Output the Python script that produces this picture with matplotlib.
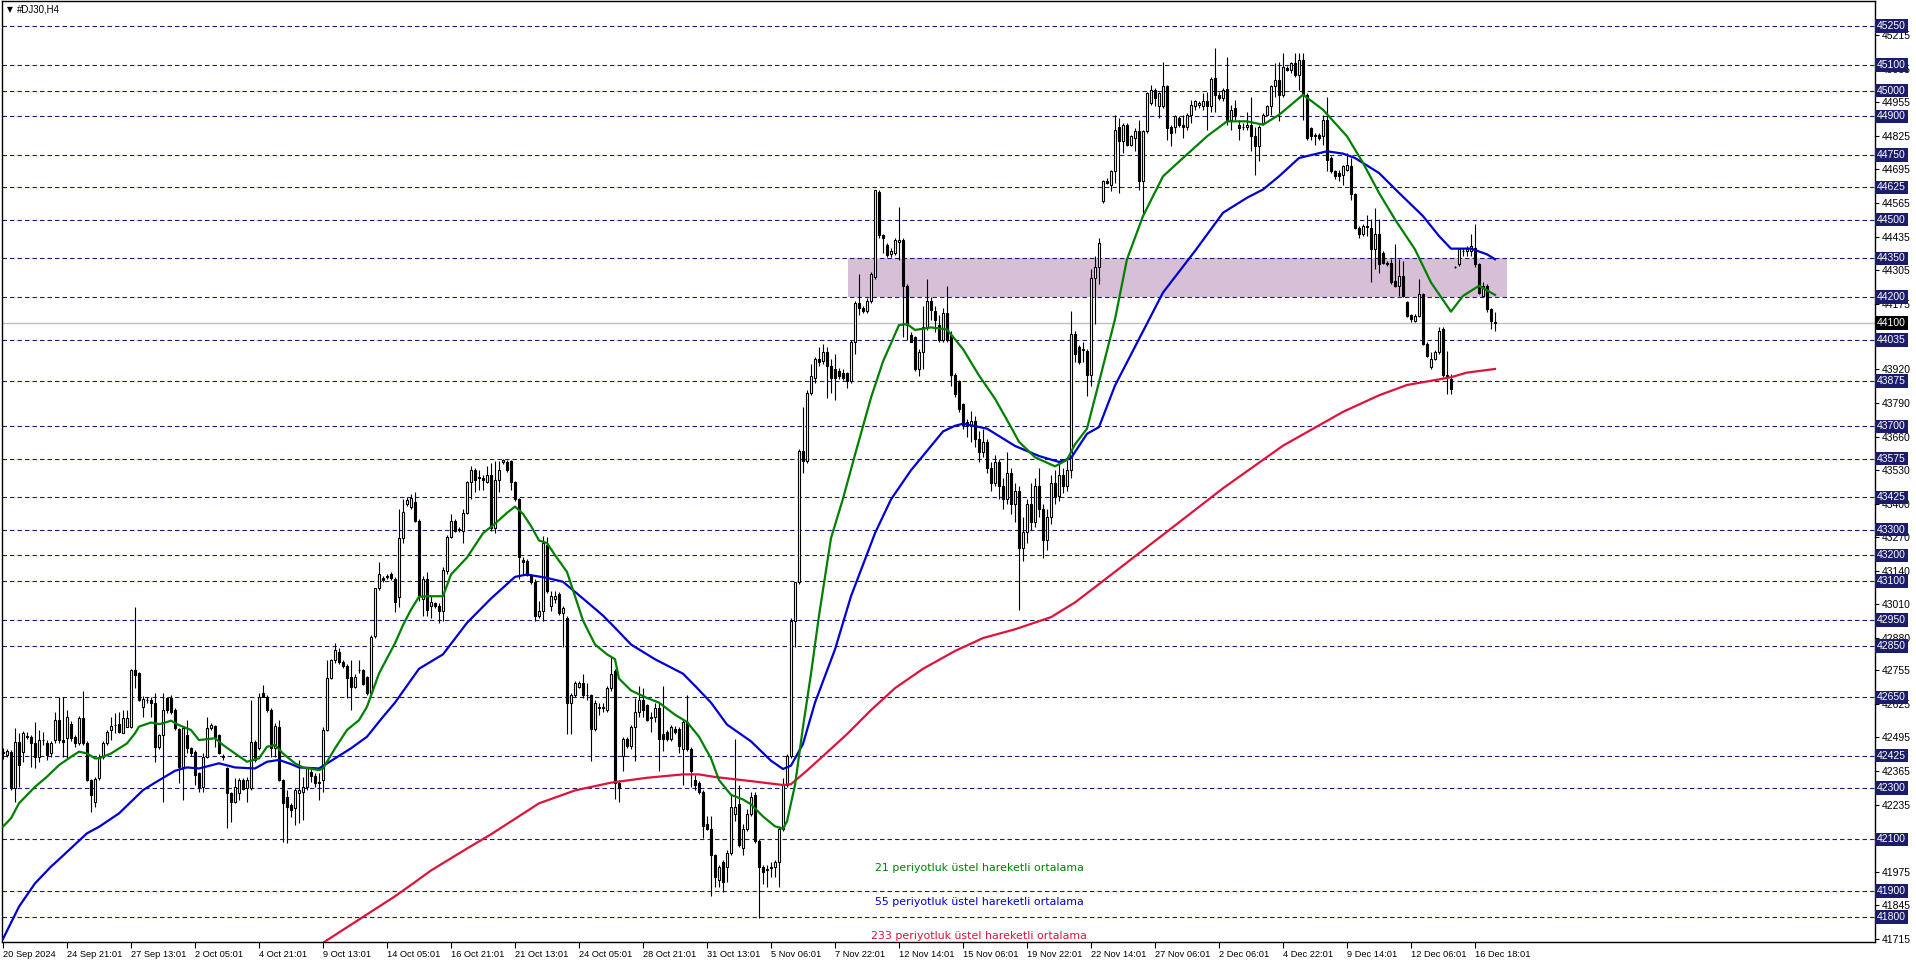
import numpy as np
import matplotlib.pyplot as plt
from matplotlib.patches import Rectangle

plt.rcParams['font.family'] = ['DejaVu Sans']
plt.rcParams['lines.scale_dashes'] = False

# H4 candles, index 0 = 20 Sep 2024
opens = [
    42440, 42427, 42440, 42298, 42479, 42440, 42500, 42498, 42472, 42421,
    42485, 42475, 42434, 42485, 42562, 42485, 42492, 42546, 42498, 42472,
    42569, 42472, 42330, 42246, 42337, 42420, 42475, 42524, 42543, 42546,
    42511, 42537, 42537, 42756, 42743, 42614, 42640, 42640, 42627, 42459,
    42504, 42646, 42646, 42601, 42528, 42382, 42504, 42453, 42440, 42356,
    42304, 42420, 42530, 42540, 42504, 42424, 42375, 42279, 42246, 42279,
    42330, 42298, 42298, 42479, 42453, 42668, 42653, 42601, 42453, 42537,
    42330, 42263, 42234, 42220, 42279, 42285, 42304, 42362, 42346, 42324,
    42330, 42524, 42724, 42795, 42825, 42788, 42773, 42728, 42692, 42756,
    42756, 42730, 42666, 42888, 43072, 43111, 43118, 43130, 43107, 43040,
    43267, 43400, 43389, 43408, 43333, 43033, 43110, 43005, 43014, 43005,
    42986, 43140, 43273, 43333, 43304, 43295, 43365, 43483, 43530, 43502,
    43500, 43483, 43511, 43305, 43492, 43560, 43563, 43567, 43483, 43417,
    43183, 43177, 43126, 43098, 42967, 42986, 43239, 43005, 43033, 43051,
    42976, 42958, 42630, 42658, 42692, 42705, 42660, 42658, 42526, 42612,
    42610, 42601, 42686, 42751, 42320, 42423, 42489, 42461, 42536, 42592,
    42639, 42620, 42570, 42573, 42611, 42508, 42517, 42489, 42527, 42527,
    42452, 42555, 42452, 42330, 42320, 42283, 42161, 42142, 42039, 41945,
    42011, 41992, 42048, 42198, 42236, 42067, 42142, 42198, 42273, 42095,
    41992, 41983, 41990, 41992, 42011, 42142, 42311, 42423, 42948, 43098,
    43605, 43567, 43830, 43886, 43961, 43951, 43989, 43933, 43923, 43914,
    43905, 43905, 43876, 44026, 44176, 44158, 44148, 44186, 44280, 44608,
    44439, 44401, 44367, 44373, 44415, 44420, 44242, 44054, 44045, 43923,
    43989, 44083, 44186, 44148, 44092, 44036, 44139, 44054, 43897, 43877,
    43787, 43716, 43700, 43720, 43650, 43600, 43640, 43540, 43480, 43560,
    43470, 43420, 43520, 43400, 43450, 43230, 43290, 43400, 43330, 43470,
    43380, 43260, 43350, 43480, 43430, 43510, 43470, 43530, 44057, 44006,
    43995, 43993, 43897, 44276, 44315, 44572, 44649, 44636, 44688, 44861,
    44803, 44868, 44791, 44816, 44842, 44649, 44842, 44951, 45003, 44939,
    44939, 45016, 44861, 44861, 44894, 44868, 44861, 44906, 44939, 44945,
    44939, 44958, 44939, 45048, 44984, 44971, 45005, 44887, 44932, 44868,
    44861, 44861, 44868, 44823, 44784, 44874, 44906, 44939, 45016, 45042,
    44984, 45087, 45080, 45106, 45061, 45119, 44984, 44855, 44829, 44829,
    44823, 44887, 44739, 44688, 44681, 44675, 44694, 44707, 44598, 44469,
    44443, 44476, 44469, 44386, 44443, 44373, 44334, 44334, 44263, 44244,
    44283, 44180, 44131, 44109, 44128, 44212, 44019, 43929, 43961, 43987,
    44077, 43897, 43884, 44318, 44328, 44380, 44378, 44379, 44392, 44328,
    44205, 44244, 44154, 44105,
]
highs = [
    42455, 42452, 42445, 42530, 42511, 42520, 42515, 42505, 42556, 42524,
    42517, 42485, 42480, 42592, 42653, 42653, 42601, 42560, 42505, 42580,
    42676, 42480, 42335, 42343, 42430, 42480, 42525, 42575, 42588, 42595,
    42601, 42601, 42760, 43001, 42750, 42655, 42653, 42653, 42666, 42510,
    42666, 42653, 42660, 42610, 42530, 42540, 42562, 42460, 42447, 42360,
    42433, 42575, 42550, 42545, 42510, 42430, 42380, 42282, 42337, 42337,
    42340, 42343, 42640, 42485, 42666, 42698, 42660, 42608, 42550, 42562,
    42335, 42292, 42240, 42298, 42408, 42343, 42382, 42382, 42356, 42356,
    42537, 42795, 42800, 42859, 42840, 42795, 42780, 42795, 42740, 42795,
    42760, 42735, 42890, 43075, 43176, 43120, 43130, 43135, 43115, 43380,
    43417, 43425, 43436, 43445, 43340, 43120, 43136, 43042, 43020, 43014,
    43155, 43280, 43361, 43340, 43312, 43380, 43490, 43548, 43539, 43530,
    43511, 43548, 43558, 43567, 43567, 43573, 43570, 43571, 43490, 43421,
    43192, 43185, 43130, 43108, 43023, 43277, 43273, 43061, 43061, 43060,
    43005, 42965, 42667, 42715, 42715, 42742, 42705, 42665, 42640, 42630,
    42630, 42695, 42808, 42760, 42330, 42498, 42495, 42545, 42648, 42695,
    42686, 42625, 42592, 42630, 42630, 42695, 42525, 42545, 42540, 42535,
    42564, 42658, 42460, 42348, 42325, 42290, 42190, 42190, 42045, 42001,
    42020, 42060, 42273, 42489, 42311, 42161, 42217, 42283, 42285, 42100,
    42000, 42001, 42011, 42020, 42152, 42339, 42432, 42958, 43098, 43614,
    43773, 43839, 43942, 43970, 44008, 44017, 44008, 43961, 43980, 43925,
    43920, 43912, 44036, 44186, 44289, 44165, 44195, 44298, 44617, 44617,
    44445, 44410, 44392, 44430, 44551, 44430, 44250, 44064, 44050, 43998,
    44167, 44270, 44200, 44167, 44130, 44158, 44242, 44070, 43905, 43880,
    43790, 43730, 43760, 43740, 43680, 43690, 43650, 43560, 43590, 43575,
    43500, 43600, 43540, 43480, 43470, 43350, 43420, 43480, 43500, 43540,
    43400, 43380, 43510, 43530, 43560, 43540, 43570, 44147, 44070, 44015,
    44025, 44000, 44308, 44360, 44431, 44655, 44660, 44694, 44906, 44894,
    44874, 44874, 44830, 44855, 44887, 44849, 44996, 45022, 45010, 44996,
    45112, 45022, 44868, 44906, 44900, 44906, 44913, 44964, 44964, 44958,
    44990, 44996, 45054, 45164, 44996, 45010, 45132, 44945, 44964, 44887,
    44874, 44919, 44977, 44861, 44868, 44913, 44945, 45022, 45106, 45112,
    45144, 45095, 45112, 45144, 45144, 45144, 44990, 44861, 44836, 44836,
    44906, 44977, 44745, 44694, 44694, 44713, 44758, 44739, 44604, 44475,
    44482, 44520, 44501, 44546, 44501, 44380, 44340, 44347, 44405, 44347,
    44340, 44186, 44135, 44135, 44270, 44218, 44025, 43987, 43995, 44083,
    44083, 43993, 43903, 44322, 44392, 44392, 44398, 44443, 44482, 44334,
    44257, 44250, 44160, 44141,
]
lows = [
    42410, 42420, 42290, 42246, 42304, 42400, 42490, 42382, 42375, 42401,
    42466, 42408, 42420, 42472, 42472, 42420, 42414, 42480, 42460, 42465,
    42466, 42325, 42207, 42227, 42330, 42410, 42465, 42485, 42511, 42511,
    42511, 42537, 42530, 42685, 42635, 42575, 42627, 42575, 42401, 42450,
    42246, 42590, 42585, 42524, 42317, 42253, 42433, 42425, 42311, 42285,
    42285, 42415, 42525, 42459, 42430, 42408, 42143, 42169, 42240, 42253,
    42290, 42246, 42292, 42400, 42446, 42650, 42595, 42420, 42420, 42325,
    42091, 42085, 42188, 42156, 42162, 42175, 42292, 42324, 42304, 42253,
    42285, 42520, 42720, 42782, 42780, 42765, 42646, 42601, 42685, 42743,
    42700, 42660, 42660, 42880, 43066, 43098, 43110, 43105, 42982, 43000,
    43248, 43390, 43380, 43330, 43023, 42967, 42967, 42958, 42995, 42939,
    42948, 43130, 43267, 43290, 43290, 43248, 43360, 43417, 43445, 43455,
    43455, 43480, 43295, 43286, 43445, 43555, 43525, 43455, 43410, 43108,
    43126, 43120, 43090, 42948, 42958, 42948, 43055, 42986, 43014, 42970,
    42845, 42508, 42508, 42650, 42685, 42648, 42640, 42405, 42520, 42583,
    42592, 42592, 42676, 42255, 42245, 42367, 42455, 42452, 42405, 42573,
    42573, 42558, 42517, 42555, 42367, 42442, 42480, 42480, 42510, 42433,
    42311, 42442, 42302, 42292, 42275, 42105, 42138, 41880, 41917, 41917,
    41898, 41936, 42040, 42170, 42070, 42039, 42133, 42189, 42086, 41795,
    41927, 41917, 41955, 41955, 41917, 42133, 42302, 42414, 42845, 43089,
    43520, 43558, 43820, 43867, 43933, 43942, 43811, 43830, 43801, 43885,
    43880, 43848, 43867, 43980, 44130, 44140, 44140, 44176, 44270, 44430,
    44373, 44355, 44355, 44365, 44345, 44045, 44036, 44026, 43914, 43895,
    43923, 44073, 44110, 44064, 44026, 44026, 44026, 43857, 43815, 43755,
    43691, 43660, 43640, 43620, 43560, 43580, 43520, 43450, 43470, 43420,
    43380, 43400, 43360, 43330, 42990, 43180, 43250, 43300, 43310, 43350,
    43190, 43220, 43320, 43400, 43410, 43440, 43450, 43500, 43948, 43940,
    43948, 43819, 43858, 44096, 44250, 44565, 44640, 44611, 44643, 44604,
    44759, 44784, 44785, 44765, 44617, 44527, 44836, 44945, 44939, 44894,
    44932, 44810, 44784, 44836, 44860, 44816, 44849, 44874, 44926, 44932,
    44926, 44849, 44919, 44919, 44964, 44958, 44868, 44849, 44887, 44810,
    44849, 44849, 44765, 44675, 44726, 44868, 44900, 44906, 44977, 44881,
    44977, 45075, 45067, 45054, 45003, 44887, 44810, 44810, 44791, 44810,
    44791, 44688, 44681, 44656, 44649, 44636, 44688, 44578, 44463, 44430,
    44437, 44437, 44257, 44308, 44295, 44328, 44321, 44250, 44238, 44205,
    44199, 44122, 44103, 44103, 44122, 44013, 43970, 43922, 43955, 43980,
    43890, 43826, 43826, 44312, 44320, 44360, 44360, 44360, 44315, 44212,
    44199, 44141, 44077, 44070,
]
closes = [
    42436, 42444, 42298, 42479, 42388, 42511, 42498, 42472, 42421, 42485,
    42487, 42427, 42472, 42562, 42485, 42478, 42575, 42492, 42472, 42571,
    42472, 42330, 42272, 42334, 42420, 42472, 42517, 42541, 42545, 42517,
    42569, 42569, 42756, 42737, 42640, 42644, 42642, 42627, 42459, 42504,
    42601, 42601, 42595, 42530, 42382, 42530, 42453, 42433, 42350, 42304,
    42420, 42530, 42543, 42498, 42436, 42420, 42279, 42246, 42304, 42330,
    42295, 42330, 42479, 42408, 42653, 42653, 42601, 42453, 42540, 42330,
    42240, 42227, 42214, 42292, 42292, 42304, 42375, 42346, 42317, 42320,
    42524, 42724, 42795, 42834, 42788, 42773, 42724, 42692, 42730, 42757,
    42704, 42666, 42885, 43072, 43130, 43105, 43122, 43111, 43020, 43267,
    43370, 43415, 43421, 43333, 43042, 43110, 42990, 43018, 43003, 42986,
    43145, 43273, 43333, 43295, 43297, 43365, 43483, 43530, 43492, 43500,
    43492, 43511, 43305, 43492, 43530, 43570, 43530, 43483, 43417, 43192,
    43173, 43126, 43098, 42967, 42986, 43248, 43061, 43042, 43042, 42976,
    42995, 42630, 42661, 42705, 42705, 42658, 42658, 42526, 42630, 42610,
    42614, 42686, 42742, 42320, 42301, 42489, 42461, 42536, 42592, 42639,
    42601, 42564, 42573, 42611, 42489, 42489, 42489, 42536, 42517, 42461,
    42555, 42452, 42367, 42311, 42283, 42152, 42142, 42039, 41955, 41992,
    41936, 42048, 42226, 42226, 42080, 42142, 42198, 42264, 42095, 41992,
    41973, 41985, 41995, 42011, 42142, 42311, 42423, 42948, 43098, 43605,
    43567, 43830, 43895, 43961, 43950, 43989, 43933, 43886, 43886, 43895,
    43886, 43876, 44026, 44176, 44158, 44148, 44186, 44289, 44617, 44439,
    44430, 44364, 44377, 44420, 44420, 44242, 44092, 44026, 43923, 43989,
    44083, 44186, 44150, 44111, 44036, 44139, 44036, 43897, 43826, 43768,
    43704, 43700, 43720, 43650, 43600, 43640, 43540, 43480, 43560, 43470,
    43420, 43520, 43400, 43450, 43230, 43290, 43400, 43330, 43470, 43380,
    43260, 43350, 43480, 43430, 43510, 43470, 43530, 44057, 43980, 43948,
    43999, 43897, 44276, 44315, 44411, 44649, 44643, 44688, 44849, 44803,
    44868, 44791, 44823, 44842, 44649, 44842, 44990, 45003, 44971, 44990,
    45016, 44855, 44836, 44900, 44868, 44861, 44906, 44945, 44958, 44951,
    44958, 44939, 45044, 44984, 44971, 45003, 44887, 44926, 44906, 44855,
    44861, 44868, 44823, 44784, 44861, 44906, 44939, 45016, 45042, 44984,
    45093, 45080, 45106, 45061, 45119, 44984, 44816, 44823, 44823, 44816,
    44887, 44733, 44688, 44669, 44669, 44707, 44713, 44598, 44469, 44443,
    44476, 44473, 44386, 44443, 44328, 44334, 44328, 44257, 44244, 44283,
    44205, 44128, 44115, 44128, 44212, 44019, 43974, 43961, 43987, 44070,
    43897, 43890, 43845, 44316, 44385, 44378, 44385, 44398, 44328, 44218,
    44244, 44154, 44109, 44100,
]

# moving averages (candle index, price)
ema21_x = [0, 2, 4, 8, 11, 14, 17, 19, 21, 23, 24, 27, 31, 33, 34, 37, 39, 40, 42, 44,
           47, 49, 53, 55, 58, 61, 64, 66, 68, 70, 73, 75, 79, 80, 83, 86, 89, 91, 94, 98,
           100, 102, 104, 106, 110, 112, 116, 120, 123, 126, 128, 130, 132, 134, 136, 138,
           141, 143, 145, 148, 151, 153, 154, 157, 161, 164, 168, 171, 174, 177, 179, 182,
           185, 187, 190, 193, 195, 196, 198, 200, 202, 204, 207, 210, 213, 217, 220, 224,
           226, 228, 232, 236, 240, 244, 248, 252, 254, 258, 263, 266, 268, 271, 274, 278,
           281, 285, 290, 295, 301, 306, 311, 315, 319, 325, 330, 336, 340, 344, 348, 353,
           357, 362, 365, 369, 373]
ema21_y = [42150, 42182, 42240, 42304, 42343, 42388, 42420, 42440, 42433, 42414, 42414,
           42433, 42472, 42511, 42537, 42553, 42547, 42550, 42560, 42543, 42524, 42485,
           42492, 42466, 42433, 42401, 42414, 42459, 42466, 42433, 42395, 42379, 42369,
           42375, 42453, 42524, 42562, 42614, 42743, 42860, 42930, 42990, 43040, 43042,
           43042, 43126, 43192, 43286, 43323, 43365, 43389, 43361, 43314, 43258, 43248,
           43201, 43136, 43042, 42948, 42855, 42817, 42798, 42723, 42677, 42648, 42630,
           42583, 42555, 42498, 42414, 42330, 42273, 42255, 42236, 42189, 42151, 42142,
           42170, 42311, 42536, 42742, 42967, 43267, 43420, 43590, 43811, 43951, 44092,
           44096, 44073, 44083, 44075, 43999, 43897, 43807, 43697, 43640, 43580, 43545,
           43570, 43630, 43691, 43871, 44115, 44347, 44514, 44668, 44739, 44823, 44881,
           44881, 44868, 44906, 44984, 44926, 44823, 44720, 44604, 44501, 44385, 44257,
           44144, 44205, 44244, 44209]

ema55_x = [0, 4, 8, 12, 14, 21, 24, 29, 35, 38, 43, 46, 49, 54, 58, 63, 66, 69, 72, 74,
           79, 83, 87, 91, 95, 98, 104, 110, 116, 122, 128, 131, 136, 140, 145, 150, 153,
           157, 163, 170, 173, 177, 181, 187, 192, 195, 197, 200, 203, 208, 212, 218, 222,
           227, 230, 235, 238, 240, 242, 246, 253, 259, 264, 267, 271, 274, 278, 284, 290,
           298, 305, 311, 315, 319, 324, 331, 335, 338, 344, 349, 355, 359, 362, 367, 371,
           373]
ema55_y = [41715, 41840, 41930, 41995, 42023, 42124, 42149, 42201, 42291, 42320, 42366,
           42379, 42375, 42395, 42379, 42375, 42401, 42408, 42392, 42379, 42375, 42414,
           42453, 42498, 42575, 42630, 42761, 42817, 42939, 43033, 43117, 43126, 43113,
           43098, 43033, 42967, 42920, 42855, 42798, 42742, 42695, 42630, 42545, 42480,
           42405, 42373, 42386, 42470, 42630, 42836, 43042, 43286, 43417, 43530, 43586,
           43680, 43702, 43710, 43704, 43691, 43624, 43585, 43562, 43577, 43671, 43697,
           43858, 44038, 44218, 44379, 44527, 44585, 44617, 44668, 44739, 44765, 44756,
           44739, 44681, 44604, 44514, 44437, 44388, 44388, 44366, 44347]

ema233_x = [79, 90, 98, 103, 107, 116, 122, 125, 134, 143, 152, 161, 170, 174, 178, 187,
            195, 197, 201, 205, 211, 217, 223, 230, 238, 245, 253, 262, 268, 274, 290, 305,
            320, 335, 344, 351, 362, 366, 373]
ema233_y = [41690, 41800, 41880, 41935, 41980, 42065, 42120, 42150, 42240, 42290, 42320,
            42339, 42352, 42352, 42342, 42326, 42311, 42314, 42367, 42423, 42508, 42601,
            42686, 42761, 42830, 42880, 42914, 42961, 43018, 43089, 43280, 43460, 43625,
            43756, 43820, 43860, 43890, 43908, 43922]

grid_levels = [45250, 45100, 45000, 44900, 44750, 44625, 44500, 44350, 44200, 44035,
               43875, 43700, 43575, 43425, 43300, 43200, 43100, 42950, 42850, 42650,
               42425, 42300, 42100, 41900, 41800]
scale_prices = [45215, 45085, 44955, 44825, 44695, 44565, 44435, 44305, 44175,
                43920, 43790, 43660, 43530, 43400, 43270, 43140, 43010, 42880, 42755,
                42625, 42495, 42365, 42235, 41975, 41845, 41715]
last_price = 44100

zone_x = [211.25, 376]
zone_y = [44200, 44350]

time_labels = ["20 Sep 2024", "24 Sep 21:01", "27 Sep 13:01", "2 Oct 05:01", "4 Oct 21:01",
               "9 Oct 13:01", "14 Oct 05:01", "16 Oct 21:01", "21 Oct 13:01", "24 Oct 05:01",
               "28 Oct 21:01", "31 Oct 13:01", "5 Nov 06:01", "7 Nov 22:01", "12 Nov 14:01",
               "15 Nov 06:01", "19 Nov 22:01", "22 Nov 14:01", "27 Nov 06:01", "2 Dec 06:01",
               "4 Dec 22:01", "9 Dec 14:01", "12 Dec 06:01", "16 Dec 18:01"]
time_label_idx = list(range(0, 16 * len(time_labels), 16))

ma_notes = ["21 periyotluk üstel hareketli ortalama",
            "55 periyotluk üstel hareketli ortalama",
            "233 periyotluk üstel hareketli ortalama"]
ma_colors = ['#008000', '#0000d0', '#dc143c']

# ---- drawing ----
o = np.array(opens)
h = np.array(highs)
l = np.array(lows)
c = np.array(closes)
x = np.arange(len(c))

fig = plt.figure(figsize=(19.16, 9.63), dpi=100)
ax = fig.add_axes([2 / 1916, 21 / 963, 1873 / 1916, 941 / 963])
ax.set_xlim(-0.25, 468)
ax.set_ylim(41703, 45347)

ax.add_patch(Rectangle((zone_x[0], zone_y[0]), zone_x[1] - zone_x[0], zone_y[1] - zone_y[0],
                       facecolor='#d8bfd8', edgecolor='none', zorder=0))

for lv in grid_levels:
    ax.axhline(lv, color='#1c1c6c', lw=0.8, ls=(0, (3.2, 2.2)), zorder=1)
ax.axhline(last_price, color='#c0c0c0', lw=1.0, zorder=1)

# candles
ax.vlines(x, l, h, color='black', lw=0.8, zorder=3)
up = c >= o
ax.bar(x, np.abs(c - o), bottom=np.minimum(o, c), width=0.5,
       color=np.where(up, 'white', 'black'), edgecolor='black', linewidth=0.8, zorder=4)

# moving averages
ax.plot(ema233_x, ema233_y, color='#dc143c', lw=1.6, zorder=5)
ax.plot(ema55_x, ema55_y, color='#0000d0', lw=1.6, zorder=5)
ax.plot(ema21_x, ema21_y, color='#008000', lw=1.6, zorder=6)

note_y = [41990, 41858, 41727]
note_x = [218, 218, 217]
for txt, col, nx, ny in zip(ma_notes, ma_colors, note_x, note_y):
    ax.text(nx, ny, txt, color=col, fontsize=7.9, ha='left', va='center', zorder=7)

axis_font = ['Liberation Sans', 'DejaVu Sans']

# time axis
ax.set_xticks(time_label_idx)
ax.set_xticklabels(time_labels, fontsize=6.7, ha='left', family=axis_font)
ax.tick_params(axis='x', length=4, width=0.8, pad=1.5, direction='out')

# price axis
ax.yaxis.tick_right()
ax.set_yticks(scale_prices)
ax.set_yticklabels([str(v) for v in scale_prices], fontsize=7.5, family=axis_font)
ax.tick_params(axis='y', length=3, width=0.8, pad=2, direction='out')

ytr = ax.get_yaxis_transform()
for lv in grid_levels:
    ax.text(1 + 2 / 1873, lv, str(lv), transform=ytr, fontsize=7.5, color='white',
            family=axis_font, ha='left', va='center', clip_on=False, zorder=10,
            bbox=dict(boxstyle='square,pad=0.17', fc='#1c1c6c', ec='none'))
ax.text(1 + 2 / 1873, last_price, str(last_price), transform=ytr, fontsize=7.5, color='white',
        family=axis_font, ha='left', va='center', clip_on=False, zorder=10,
        bbox=dict(boxstyle='square,pad=0.17', fc='black', ec='none'))

for s in ax.spines.values():
    s.set_color('black')
    s.set_linewidth(1.0)

fig.text(7 / 1916, 1 - 10 / 963, '▼', fontsize=5.5, va='center')
fig.text(17 / 1916, 1 - 10 / 963, '#DJ30,H4', fontsize=7, va='center', family=axis_font)

fig.savefig('out.png', dpi=100, facecolor='white')
